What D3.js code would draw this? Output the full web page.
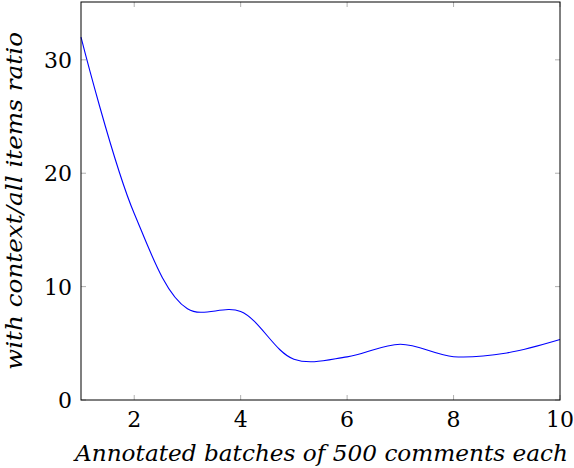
<!DOCTYPE html>
<html>
<head>
<meta charset="utf-8">
<script src="https://cdn.jsdelivr.net/npm/d3@7.9.0/dist/d3.min.js"></script>
<style>
  body { margin: 0; background: #fff; }
  svg text { font-family: 'DejaVu Serif', serif; fill: #000; }
</style>
</head>
<body>
<div id="chart"></div>
<script>
// batches annotated (x) and the ratio (y)
const batches = [1, 2, 3, 4, 5, 6, 7, 8, 9, 10];
const ratio = [32.0, 16.45, 8.05, 7.8, 3.6, 3.8, 4.92, 3.82, 4.15, 5.33];
const xTicks = [2, 4, 6, 8, 10];
const yTicks = [0, 10, 20, 30];

const width = 574;
const height = 468;
const margin = { top: 2, right: 14, bottom: 68, left: 81 };

const svg = d3.select('#chart')
  .append('svg')
  .attr('width', width)
  .attr('height', height);

const xScale = d3.scaleLinear()
  .domain([1, 10])
  .range([margin.left, width - margin.right]);

const yScale = d3.scaleLinear()
  .domain([0, 35.1])
  .range([height - margin.bottom, margin.top]);

const x0 = margin.left, x1 = width - margin.right;
const y0 = height - margin.bottom, y1 = margin.top;

// tick marks, pointing inward on all four sides
const ticks = svg.append('g').attr('stroke', '#b0b0b0').attr('stroke-width', 1);
xTicks.forEach((t) => {
  const x = xScale(t);
  ticks.append('line').attr('x1', x).attr('x2', x).attr('y1', y0).attr('y2', y0 - 5);
  ticks.append('line').attr('x1', x).attr('x2', x).attr('y1', y1).attr('y2', y1 + 5);
});
yTicks.forEach((t) => {
  const y = yScale(t);
  ticks.append('line').attr('x1', x0).attr('x2', x0 + 5).attr('y1', y).attr('y2', y);
  ticks.append('line').attr('x1', x1).attr('x2', x1 - 5).attr('y1', y).attr('y2', y);
});

// the curve
const line = d3.line()
  .x((d, i) => xScale(batches[i]))
  .y((d) => yScale(d))
  .curve(d3.curveCatmullRom.alpha(0.5));

svg.append('path')
  .datum(ratio)
  .attr('d', line)
  .attr('fill', 'none')
  .attr('stroke', '#0000ff')
  .attr('stroke-width', 1.1);

// frame
svg.append('rect')
  .attr('x', x0).attr('y', y1)
  .attr('width', x1 - x0).attr('height', y0 - y1)
  .attr('fill', 'none')
  .attr('stroke', '#000')
  .attr('stroke-width', 1);

// tick labels
svg.append('g').selectAll('text')
  .data(xTicks)
  .join('text')
  .attr('x', (d) => xScale(d))
  .attr('y', 427)
  .attr('text-anchor', 'middle')
  .style('font-size', '22px')
  .text((d) => d);

svg.append('g').selectAll('text')
  .data(yTicks)
  .join('text')
  .attr('x', 72)
  .attr('y', (d) => yScale(d) + 8)
  .attr('text-anchor', 'end')
  .style('font-size', '22px')
  .text((d) => d);

// axis titles
svg.append('text')
  .attr('x', 321.5)
  .attr('y', 461)
  .attr('text-anchor', 'middle')
  .attr('textLength', 493)
  .attr('lengthAdjust', 'spacingAndGlyphs')
  .style('font-size', '22px')
  .style('font-style', 'italic')
  .text('Annotated batches of 500 comments each');

svg.append('text')
  .attr('transform', `translate(22, 201) rotate(-90)`)
  .attr('text-anchor', 'middle')
  .attr('textLength', 338)
  .attr('lengthAdjust', 'spacingAndGlyphs')
  .style('font-size', '22px')
  .style('font-style', 'italic')
  .text('with context/all items ratio');
</script>
</body>
</html>
